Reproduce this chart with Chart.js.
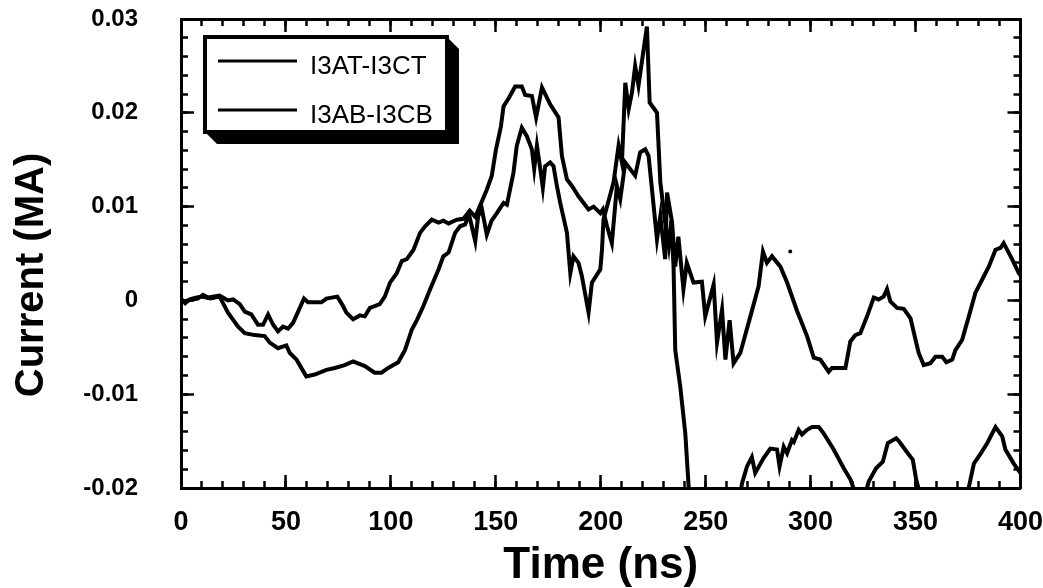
<!DOCTYPE html>
<html>
  <head>
    <title>Current (MA)</title>
    <script src="https://cdn.jsdelivr.net/npm/chart.js"></script>
    <style>
      body { margin: 0; background: #ffffff; }
      #grafico { display: block; }
    </style>
  </head>
  <body>
    <canvas id="grafico" width="1043" height="588"></canvas>
  </body>
</html>

<script>
  // Difference currents, time in ns and current in MA
  const tempoAT = [
    0, 2, 4, 7, 10, 14, 18.4, 22.4, 27.2, 30.4, 35.1, 39.9, 42.3, 46.2, 50.2, 51.8, 55, 59.7, 63.7, 69.3,
    73.3, 78, 82, 87.6, 92.3, 95.5, 98.7, 103.5, 106.7, 110, 112.4, 115.5, 118.7, 122.7, 125, 127.5, 130.6, 133, 135.4, 137.8,
    140.2, 142.5, 145.7, 148.1, 150, 152.4, 153.7, 156, 159.2, 162.4, 164, 167.2, 169.2, 172, 175.9, 179.9, 181.5, 183.9, 186.3, 189.4,
    194.2, 196.6, 199.8, 201, 203, 205.3, 207.7, 209.3, 211.7, 216.4, 218.8, 221.2, 222.8, 226, 226.8, 228.4, 230.7, 231.6, 234, 235.5,
    237, 239.4, 241, 244.2, 248.2, 249.8, 253.8, 255.4, 257.8, 259.4, 261.4, 263.3, 266.5, 271.3, 275.2, 277.3, 279.2, 281.6, 285.6, 288.8,
    293.5, 298.3, 301.5, 304.6, 308.6, 310.2, 316.6, 318.9, 321.3, 323.7, 326.9, 330.1, 332.4, 334.8, 336.4, 338, 341.2, 344.4, 347.6, 350,
    351.5, 353.9, 357.1, 359.5, 362.7, 364.7, 367.5, 369, 372.2, 375.4, 378.5, 381.7, 384.9, 388.1, 390.5, 392, 396, 399.2, 400
  ];
  const correnteAT = [
    0.0002, -0.0003, 0.0001, 0.0003, 0.0004, 0.0002, 0.0004, -0.0013, -0.0028, -0.0035, -0.0037, -0.0038, -0.0045, -0.0051, -0.0048, -0.0056, -0.0063, -0.0081, -0.0079, -0.0074,
    -0.0072, -0.0069, -0.0065, -0.0070, -0.0077, -0.0077, -0.0072, -0.0066, -0.0053, -0.0031, -0.0021, -0.0006, 0.0012, 0.0033, 0.0047, 0.0051, 0.0072, 0.0079, 0.0081, 0.0095,
    0.0089, 0.0101, 0.0118, 0.0133, 0.0160, 0.0185, 0.0207, 0.0215, 0.0228, 0.0228, 0.0219, 0.0218, 0.0195, 0.0227, 0.0209, 0.0195, 0.0154, 0.0129, 0.0122, 0.0111,
    0.0097, 0.0100, 0.0093, 0.0097, 0.0079, 0.0061, 0.0122, 0.0108, 0.0147, 0.0133, 0.0158, 0.0161, 0.0154, 0.0083, 0.0065, 0.0090, 0.0044, 0.0115, 0.0083, 0.0036,
    0.0068, 0.0012, 0.0040, 0.0019, 0.0020, -0.0017, 0.0017, -0.0045, -0.0010, -0.0063, -0.0021, -0.0067, -0.0056, -0.0017, 0.0015, 0.0052, 0.0040, 0.0047, 0.0036, 0.0019,
    -0.0011, -0.0038, -0.0061, -0.0063, -0.0076, -0.0072, -0.0072, -0.0044, -0.0037, -0.0035, -0.0017, 0.0003, 0.0001, 0.0004, 0.0012, -0.0001, -0.0008, -0.0009, -0.0019, -0.0042,
    -0.0056, -0.0069, -0.0067, -0.0060, -0.0060, -0.0066, -0.0063, -0.0053, -0.0042, -0.0017, 0.0008, 0.0022, 0.0036, 0.0054, 0.0056, 0.0061, 0.0044, 0.0029, 0.0027
  ];

  const tempoAB = [
    0, 1.8, 4.9, 8, 10.5, 12.9, 18.4, 22.4, 24.8, 28, 30.4, 33.5, 36.7, 39.1, 41.5, 43.9, 46.2, 48.6, 51, 53.4,
    55.8, 58.6, 60.5, 66.9, 69.3, 74.5, 77.2, 78.8, 82, 85.2, 87.6, 90, 92.3, 94.7, 97.1, 99.6, 102.8, 105.2, 107.6, 110.8,
    113.9, 116.3, 119.5, 122.7, 125, 127.5, 131.4, 134.6, 137, 140.2, 141.6, 143.4, 145.7, 148, 150.5, 153.7, 155.3, 158.4, 160, 162.4,
    164.8, 167.2, 168.3, 169.6, 171.2, 172.4, 173.5, 175.9, 177.5, 179.1, 180.7, 183.9, 185.5, 187, 189.4, 191, 194.2, 195.8, 199.8, 200.6,
    201.3, 206.1, 208.5, 210.1, 211.7, 213.3, 214.9, 216.4, 218, 222, 223.3, 226.8, 228.4, 230.7, 232.4, 233.6, 234.7, 235.5, 237.9, 240.3,
    241.9, 245, 256, 266, 267.3, 269.7, 272, 273.6, 277.6, 280.8, 284, 285.2, 287.2, 288.8, 291.1, 292, 294.3, 295.9, 298.3, 300.7,
    303.9, 306.3, 311, 315.8, 319, 322, 325, 327.7, 331.2, 334.4, 336.8, 340.8, 342.4, 346.3, 348.7, 350.3, 352, 363, 374, 375.4,
    377.8, 381.1, 384.2, 388.1, 391.3, 392.8, 396.8, 400
  ];
  const correnteAB = [
    0.0000, -0.0001, 0.0001, 0.0002, 0.0006, 0.0003, 0.0005, 0.0000, 0.0001, -0.0004, -0.0012, -0.0015, -0.0026, -0.0026, -0.0015, -0.0026, -0.0033, -0.0028, -0.0030, -0.0024,
    -0.0012, 0.0002, -0.0002, -0.0002, 0.0002, 0.0004, -0.0006, -0.0013, -0.0020, -0.0016, -0.0017, -0.0008, -0.0006, -0.0004, 0.0004, 0.0019, 0.0029, 0.0042, 0.0044, 0.0054,
    0.0072, 0.0079, 0.0086, 0.0083, 0.0085, 0.0082, 0.0086, 0.0087, 0.0094, 0.0063, 0.0090, 0.0097, 0.0070, 0.0085, 0.0093, 0.0104, 0.0102, 0.0136, 0.0165, 0.0184,
    0.0175, 0.0161, 0.0140, 0.0165, 0.0140, 0.0120, 0.0143, 0.0147, 0.0143, 0.0122, 0.0104, 0.0072, 0.0029, 0.0047, 0.0040, 0.0026, -0.0013, 0.0019, 0.0033, 0.0054,
    0.0086, 0.0126, 0.0165, 0.0147, 0.0232, 0.0204, 0.0222, 0.0250, 0.0229, 0.0292, 0.0211, 0.0200, 0.0126, 0.0083, 0.0058, 0.0085, 0.0036, -0.0053, -0.0092, -0.0142,
    -0.0199, -0.0245, -0.0260, -0.0215, -0.0195, -0.0177, -0.0167, -0.0184, -0.0168, -0.0158, -0.0159, -0.0177, -0.0156, -0.0163, -0.0149, -0.0151, -0.0138, -0.0143, -0.0138, -0.0135,
    -0.0135, -0.0142, -0.0159, -0.0179, -0.0191, -0.0210, -0.0215, -0.0193, -0.0179, -0.0172, -0.0152, -0.0147, -0.0151, -0.0163, -0.0170, -0.0191, -0.0205, -0.0240, -0.0212, -0.0199,
    -0.0174, -0.0163, -0.0152, -0.0135, -0.0145, -0.0159, -0.0174, -0.0184
  ];

  // lone plotted dot near 290 ns
  const tempoPonto = [290.3];
  const correntePonto = [0.0052];

  const nomesSeries = ["I3AT-I3CT", "I3AB-I3CB"];
  const xTickLabels = ["0", "50", "100", "150", "200", "250", "300", "350", "400"];
  const yTickLabels = ["-0.02", "-0.01", "0", "0.01", "0.02", "0.03"];
  const tituloX = "Time (ns)";
  const tituloY = "Current (MA)";

  const fonte = "'Liberation Sans', Arial, sans-serif";

  function pares(tempos, valores) {
    return tempos.map((t, i) => ({ x: t, y: valores[i] }));
  }

  // boxed legend with a solid drop shadow, inside the plot
  const caixaLegenda = {
    id: "caixaLegenda",
    afterDatasetsDraw(chart) {
      const ctx = chart.ctx;
      const area = chart.chartArea;
      const x0 = area.left + 24, y0 = area.top + 18;
      const x1 = x0 + 242, y1 = y0 + 95, d = 12;
      ctx.save();
      ctx.fillStyle = "#000";
      ctx.beginPath();
      ctx.moveTo(x1, y0);
      ctx.lineTo(x1 + d, y0 + d);
      ctx.lineTo(x1 + d, y1 + d);
      ctx.lineTo(x0 + d, y1 + d);
      ctx.lineTo(x0, y1);
      ctx.closePath();
      ctx.fill();
      ctx.fillStyle = "#fff";
      ctx.fillRect(x0, y0, x1 - x0, y1 - y0);
      ctx.lineWidth = 4;
      ctx.strokeStyle = "#000";
      ctx.strokeRect(x0, y0, x1 - x0, y1 - y0);

      ctx.font = "26px " + fonte;
      ctx.textBaseline = "alphabetic";
      chart.data.datasets.filter(ds => nomesSeries.includes(ds.label)).forEach((ds, i) => {
        const y = y0 + 24 + i * 49;
        ctx.lineWidth = 3;
        ctx.beginPath();
        ctx.moveTo(x0 + 13, y);
        ctx.lineTo(x0 + 92, y);
        ctx.stroke();
        ctx.fillStyle = "#000";
        ctx.fillText(ds.label, x0 + 105, y + 13);
      });
      ctx.restore();
    }
  };

  // vertical axis title
  const tituloVertical = {
    id: "tituloVertical",
    afterDraw(chart) {
      const ctx = chart.ctx;
      ctx.save();
      ctx.translate(43, 275);
      ctx.rotate(-Math.PI / 2);
      ctx.font = "bold 40px " + fonte;
      ctx.textAlign = "center";
      ctx.textBaseline = "alphabetic";
      ctx.fillStyle = "#000";
      ctx.fillText(tituloY, 0, 0);
      ctx.restore();
    }
  };

  // Every side gets three stacked axes: the outer one carries the frame line
  // and the labels, the two inner ones (zero size) draw long and short ticks
  // pointing into the plot.
  function eixo(posicao, passo, comprimento, peso) {
    const horizontal = posicao === "top" || posicao === "bottom";
    return {
      type: "linear",
      position: posicao,
      min: horizontal ? 0 : -0.02,
      max: horizontal ? 400 : 0.03,
      weight: peso,
      grid: { drawOnChartArea: false, drawTicks: true, tickLength: -comprimento, tickWidth: 2.5, tickColor: "#000" },
      border: { display: false },
      ticks: { stepSize: passo, display: false },
      afterFit(s) {
        if (horizontal) s.height = 0; else s.width = 0;
      }
    };
  }

  function eixoMoldura(posicao, passo, opcoes) {
    const horizontal = posicao === "top" || posicao === "bottom";
    return Object.assign({
      type: "linear",
      position: posicao,
      min: horizontal ? 0 : -0.02,
      max: horizontal ? 400 : 0.03,
      weight: 2,
      grid: { drawOnChartArea: false, drawTicks: false },
      border: { display: true, width: 3, color: "#000" },
      ticks: { stepSize: passo, display: false },
      afterFit(s) {
        if (horizontal) s.height = 0; else s.width = 0;
      }
    }, opcoes);
  }

  const config = {
    type: "line",
    data: {
      datasets: [
        {
          label: nomesSeries[0],
          data: pares(tempoAT, correnteAT),
          borderColor: "#000",
          borderWidth: 4,
          pointRadius: 0,
          tension: 0,
          fill: false,
          xAxisID: "x",
          yAxisID: "y"
        },
        {
          label: nomesSeries[1],
          data: pares(tempoAB, correnteAB),
          borderColor: "#000",
          borderWidth: 4,
          pointRadius: 0,
          tension: 0,
          fill: false,
          xAxisID: "x",
          yAxisID: "y"
        },
        {
          label: "",
          data: pares(tempoPonto, correntePonto),
          showLine: false,
          pointRadius: 2,
          pointBackgroundColor: "#000",
          pointBorderWidth: 0,
          xAxisID: "x",
          yAxisID: "y"
        }
      ]
    },
    options: {
      responsive: false,
      animation: false,
      devicePixelRatio: 1,
      layout: { padding: { left: 0, top: 19, right: 22, bottom: 0 } },
      plugins: {
        legend: { display: false },
        tooltip: { enabled: false }
      },
      scales: {
        x: eixoMoldura("bottom", 50, {
          // transparent outward tick used only as the gap to the labels
          grid: { drawOnChartArea: false, drawTicks: true, tickLength: 18, tickColor: "rgba(0,0,0,0)" },
          ticks: {
            stepSize: 50,
            autoSkip: false,
            maxRotation: 0,
            padding: 0,
            color: "#000",
            font: { family: fonte, size: 27, weight: "bold" },
            callback: (v, i) => xTickLabels[i]
          },
          title: {
            display: true,
            text: tituloX,
            color: "#000",
            padding: { top: 0, bottom: 0 },
            font: { family: fonte, size: 44, weight: "bold", lineHeight: 1 }
          },
          afterFit(s) { s.height = 100; }
        }),
        xLongo: eixo("bottom", 50, 13, 1),
        xCurto: eixo("bottom", 10, 7, 0),
        xTopo: eixoMoldura("top", 50),
        xTopoLongo: eixo("top", 50, 13, 1),
        xTopoCurto: eixo("top", 10, 7, 0),
        y: eixoMoldura("left", 0.01, {
          grid: { drawOnChartArea: false, drawTicks: true, tickLength: 43, tickColor: "rgba(0,0,0,0)" },
          ticks: {
            stepSize: 0.01,
            autoSkip: false,
            padding: 0,
            color: "#000",
            font: { family: fonte, size: 24, weight: "bold" },
            callback: (v, i) => yTickLabels[i]
          },
          afterFit(s) { s.width = 181; }
        }),
        yLongo: eixo("left", 0.01, 13, 1),
        yCurto: eixo("left", 0.002, 7, 0),
        yDireita: eixoMoldura("right", 0.01),
        yDireitaLongo: eixo("right", 0.01, 13, 1),
        yDireitaCurto: eixo("right", 0.002, 7, 0)
      }
    },
    plugins: [caixaLegenda, tituloVertical]
  };

  const grafico = new Chart(document.getElementById("grafico"), config);
</script>
